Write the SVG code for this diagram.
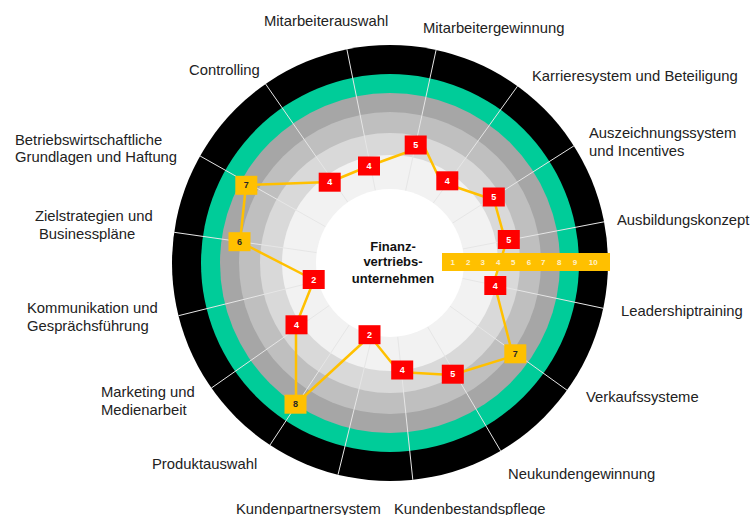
<svg xmlns="http://www.w3.org/2000/svg" width="754" height="515" viewBox="0 0 754 515">
<style>
.lbl{font-family:"Liberation Sans",Arial,sans-serif;font-size:14.8px;fill:#222}
.r{fill:#FF0000}
.y{fill:#FFC000}
.bt{font-family:"Liberation Sans",Arial,sans-serif;font-size:9px;font-weight:bold;text-anchor:middle}
.bw{fill:#fff}
.bk{fill:#262626}
.sp{stroke:#e6e6e6;stroke-width:1}
.ctr{font-family:"Liberation Sans",Arial,sans-serif;font-size:13px;font-weight:bold;text-anchor:middle;fill:#111}
.tk{font-family:"Liberation Sans",Arial,sans-serif;font-size:8px;font-weight:bold;fill:#FFF2CC;text-anchor:middle}
</style>
<rect width="754" height="515" fill="#fff"/>
<g id="rings">
<circle cx="390" cy="263" r="218" fill="#000"/>
<circle cx="390" cy="263" r="189" fill="#00CC99"/>
<circle cx="390" cy="263" r="170" fill="#A6A6A6"/>
<circle cx="390" cy="263" r="151" fill="#BFBFBF"/>
<circle cx="390" cy="263" r="130" fill="#D9D9D9"/>
<circle cx="390" cy="263" r="108" fill="#F2F2F2"/>
</g>
<g id="spokes" class="sp">
<line x1="375.4" y1="190.5" x2="346.9" y2="49.3"/>
<line x1="405.6" y1="190.7" x2="436.1" y2="49.9"/>
<line x1="433.3" y1="203.0" x2="517.5" y2="86.2"/>
<line x1="452.4" y1="223.2" x2="573.9" y2="145.9"/>
<line x1="462.7" y1="249.0" x2="604.1" y2="221.8"/>
<line x1="462.4" y1="278.4" x2="603.2" y2="308.3"/>
<line x1="450.1" y1="306.2" x2="567.0" y2="390.2"/>
<line x1="427.6" y1="326.8" x2="500.6" y2="450.8"/>
<line x1="397.7" y1="336.6" x2="412.8" y2="479.8"/>
<line x1="372.4" y1="334.9" x2="338.0" y2="474.7"/>
<line x1="349.3" y1="324.8" x2="270.0" y2="445.0"/>
<line x1="329.4" y1="305.4" x2="211.4" y2="388.0"/>
<line x1="318.2" y1="280.9" x2="178.5" y2="315.7"/>
<line x1="316.7" y1="252.6" x2="174.2" y2="232.3"/>
<line x1="325.5" y1="226.7" x2="200.1" y2="156.0"/>
<line x1="347.8" y1="202.2" x2="265.6" y2="84.0"/>
</g>
<circle id="center-disc" cx="390" cy="263" r="74" fill="#fff"/>
<g id="center-label" class="ctr">
<text x="393" y="250.5">Finanz-</text>
<text x="393" y="266">vertriebs-</text>
<text x="393" y="282.5">unternehmen</text>
</g>
<g id="connectors">
<polyline fill="none" stroke="#FFC000" stroke-width="2.5" stroke-linejoin="round" points="330,182 369,166 424,146 441,182 494,200 506,243 494,282 513,356 452,375 399,372 370,336 296,404 296,325 314,280 240,242 246,185 330,182"/>
</g>
<g id="scale">
<rect x="442" y="253" width="168" height="18" fill="#FFC000"/>
<g class="tk">
<text x="452.7" y="265">1</text><text x="468.3" y="265">2</text><text x="482.7" y="265">3</text><text x="498.3" y="265">4</text><text x="513.3" y="265">5</text><text x="529" y="265">6</text><text x="543.3" y="265">7</text><text x="559.3" y="265">8</text><text x="575" y="265">9</text><text x="593.3" y="265">10</text>
</g>
</g>
<g id="mitarbeiterauswahl"><text class="lbl" x="264" y="26">Mitarbeiterauswahl</text><rect class="r" x="358" y="156.5" width="22" height="19"/><text class="bt bw" x="369" y="169">4</text></g>
<g id="mitarbeitergewinnung"><text class="lbl" x="423" y="33">Mitarbeitergewinnung</text><rect class="r" x="404.7" y="135.5" width="22" height="19"/><text class="bt bw" x="415.7" y="148">5</text></g>
<g id="karrieresystem"><text class="lbl" x="532" y="81">Karrieresystem und Beteiligung</text><rect class="r" x="436.3" y="171.3" width="22" height="19"/><text class="bt bw" x="447.3" y="184">4</text></g>
<g id="auszeichnungssystem"><text class="lbl" x="589" y="138">Auszeichnungssystem</text><text class="lbl" x="589" y="156">und Incentives</text><rect class="r" x="482.8" y="187.5" width="22" height="19"/><text class="bt bw" x="493.8" y="200">5</text></g>
<g id="ausbildungskonzept"><text class="lbl" x="617" y="225">Ausbildungskonzept</text><rect class="r" x="497.8" y="230" width="22" height="19"/><text class="bt bw" x="508.8" y="242.5">5</text></g>
<g id="leadershiptraining"><text class="lbl" x="621" y="316">Leadershiptraining</text><rect class="r" x="484.3" y="276" width="22" height="19"/><text class="bt bw" x="495.3" y="288.5">4</text></g>
<g id="verkaufssysteme"><text class="lbl" x="586" y="402">Verkaufssysteme</text><rect class="y" x="504.3" y="344.3" width="22" height="19"/><text class="bt bk" x="515.3" y="356.8">7</text></g>
<g id="neukundengewinnung"><text class="lbl" x="508" y="479">Neukundengewinnung</text><rect class="r" x="441.8" y="364.7" width="22" height="19"/><text class="bt bw" x="452.8" y="377.2">5</text></g>
<g id="kundenbestandspflege"><text class="lbl" x="394" y="514">Kundenbestandspflege</text><rect class="r" x="391.2" y="360.5" width="22" height="19"/><text class="bt bw" x="402.2" y="373">4</text></g>
<g id="kundenpartnersystem"><text class="lbl" x="236" y="514">Kundenpartnersystem</text><rect class="r" x="358.5" y="325.2" width="22" height="19"/><text class="bt bw" x="369.5" y="337.7">2</text></g>
<g id="produktauswahl"><text class="lbl" x="152" y="469">Produktauswahl</text><rect class="y" x="284.5" y="394.7" width="22" height="19"/><text class="bt bk" x="295.5" y="407.2">8</text></g>
<g id="marketing"><text class="lbl" x="101" y="397">Marketing und</text><text class="lbl" x="101" y="415">Medienarbeit</text><rect class="r" x="285.5" y="315.3" width="22" height="19"/><text class="bt bw" x="296.5" y="327.8">4</text></g>
<g id="kommunikation"><text class="lbl" x="27" y="313">Kommunikation und</text><text class="lbl" x="27" y="331">Gesprächsführung</text><rect class="r" x="302.7" y="270" width="22" height="19"/><text class="bt bw" x="313.7" y="282.5">2</text></g>
<g id="zielstrategien"><text class="lbl" x="35" y="221">Zielstrategien und</text><text class="lbl" x="39" y="239">Businesspläne</text><rect class="y" x="228.5" y="232.2" width="22" height="19"/><text class="bt bk" x="239.5" y="244.7">6</text></g>
<g id="betriebswirtschaft"><text class="lbl" x="15" y="145">Betriebswirtschaftliche</text><text class="lbl" x="15" y="162">Grundlagen und Haftung</text><rect class="y" x="235.3" y="175.8" width="22" height="19"/><text class="bt bk" x="246.3" y="188.3">7</text></g>
<g id="controlling"><text class="lbl" x="189" y="75">Controlling</text><rect class="r" x="318.7" y="172.7" width="22" height="19"/><text class="bt bw" x="329.7" y="185.2">4</text></g>
</svg>
